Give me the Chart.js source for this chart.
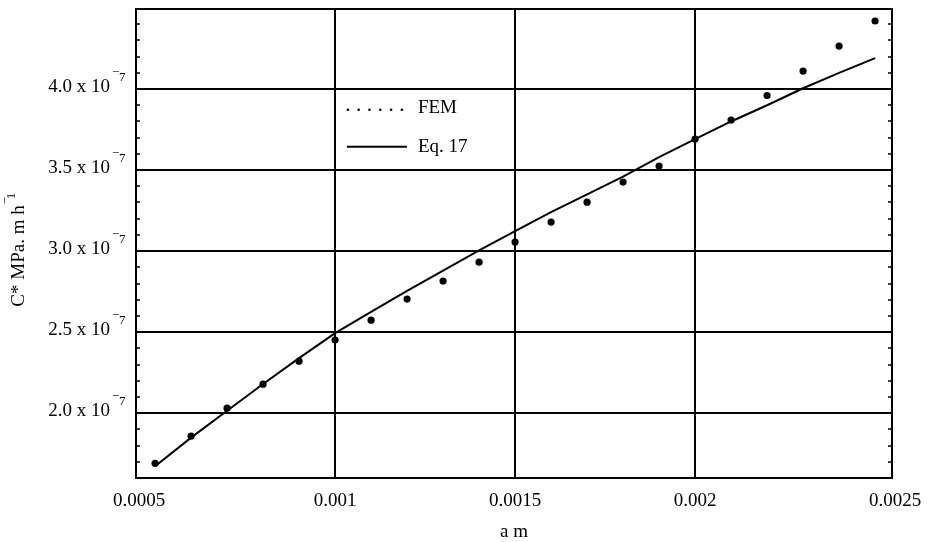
<!DOCTYPE html>
<html>
<head>
<meta charset="utf-8">
<title>C* versus crack length</title>
<script src="https://cdn.jsdelivr.net/npm/chart.js@4/dist/chart.umd.min.js"></script>
<style>
  html, body { margin: 0; padding: 0; background: #fff; }
  #wrap { width: 929px; height: 542px; position: relative; }
</style>
</head>
<body>
<div id="wrap"><canvas id="chart"></canvas></div>
<script>
// Crack length a (m)
const crackLength = [0.0005, 0.0006, 0.0007, 0.0008, 0.0009, 0.0010, 0.0011, 0.0012, 0.0013, 0.0014,
                     0.0015, 0.0016, 0.0017, 0.0018, 0.0019, 0.0020, 0.0021, 0.0022, 0.0023, 0.0024, 0.0025];
// C* from finite element runs (x 10^-7 MPa.m/h)
const femRate = [1.691, 1.858, 2.031, 2.179, 2.321, 2.451, 2.574, 2.704, 2.815, 2.932,
                 3.056, 3.179, 3.302, 3.426, 3.525, 3.691, 3.809, 3.960, 4.111, 4.265, 4.420];
// C* from Eq. 17 (x 10^-7 MPa.m/h)
const eq17Rate = [1.673, 1.849, 2.015, 2.180, 2.340, 2.494, 2.625, 2.755, 2.880, 3.005,
                  3.123, 3.240, 3.350, 3.460, 3.580, 3.691, 3.800, 3.900, 4.005, 4.100, 4.191];

const xTickValues = [0.0005, 0.001, 0.0015, 0.002, 0.0025];
const xTickLabels = ['0.0005', '0.001', '0.0015', '0.002', '0.0025'];
const yTickValues = [2.0, 2.5, 3.0, 3.5, 4.0];
const yTickLabels = ['2.0 x 10', '2.5 x 10', '3.0 x 10', '3.5 x 10', '4.0 x 10'];
const yTickExponent = '7';
const xTitle = 'a m';
const yTitle = 'C* MPa. m h';
const yTitleExponent = '1';
const seriesNames = ['FEM', 'Eq. 17'];

const FONT = '"Liberation Serif", "Times New Roman", serif';

function onStep(v, step) {
  const r = v / step;
  return Math.abs(r - Math.round(r)) < 1e-6;
}

// Frame, grid and inward tick marks, drawn beneath the data
const framePlugin = {
  id: 'frame',
  beforeDatasetsDraw(chart) {
    const { ctx, chartArea: a, scales: { x, y } } = chart;
    ctx.save();
    ctx.strokeStyle = '#000';
    ctx.lineWidth = 2;
    ctx.beginPath();
    xTickValues.slice(1, -1).forEach(v => {
      const px = Math.round(x.getPixelForValue(v));
      ctx.moveTo(px, a.top); ctx.lineTo(px, a.bottom);
    });
    yTickValues.forEach(v => {
      const py = Math.round(y.getPixelForValue(v));
      ctx.moveTo(a.left, py); ctx.lineTo(a.right, py);
    });
    ctx.stroke();

    ctx.lineWidth = 1.5;
    ctx.beginPath();
    x.ticks.forEach(t => {
      if (!onStep(t.value, 0.0001)) return;
      const px = Math.round(x.getPixelForValue(t.value));
      if (px < a.left + 2 || px > a.right - 2) return;
      ctx.moveTo(px, a.bottom); ctx.lineTo(px, a.bottom - 4);
      ctx.moveTo(px, a.top); ctx.lineTo(px, a.top + 4);
    });
    y.ticks.forEach(t => {
      if (!onStep(t.value, 0.1)) return;
      const py = Math.round(y.getPixelForValue(t.value));
      if (py < a.top + 2 || py > a.bottom - 2) return;
      ctx.moveTo(a.left, py); ctx.lineTo(a.left + 4, py);
      ctx.moveTo(a.right, py); ctx.lineTo(a.right - 4, py);
    });
    ctx.stroke();

    ctx.lineWidth = 2;
    ctx.strokeRect(a.left, a.top, a.right - a.left, a.bottom - a.top);
    ctx.restore();
  },
  afterDatasetsDraw(chart) {
    const { ctx, chartArea: a, scales: { x, y } } = chart;
    ctx.save();
    ctx.fillStyle = '#000';
    ctx.font = '19px ' + FONT;

    // x tick labels; the end labels sit at the frame edges
    ctx.textAlign = 'center';
    ctx.textBaseline = 'alphabetic';
    const last = xTickValues.length - 1;
    xTickValues.forEach((v, i) => {
      let px = x.getPixelForValue(v);
      if (i === 0) px = a.left + 3;
      if (i === last) px = a.right + 3;
      ctx.fillText(xTickLabels[i], px, a.bottom + 28);
    });

    // y tick labels with a raised exponent
    yTickValues.forEach((v, i) => {
      const py = y.getPixelForValue(v);
      ctx.font = '19px ' + FONT;
      ctx.textAlign = 'right';
      ctx.fillText(yTickLabels[i], a.left - 26, py + 2.5);
      ctx.font = '13px ' + FONT;
      ctx.textAlign = 'left';
      ctx.fillText('\u2212', a.left - 24, py - 13);
      ctx.fillText(yTickExponent, a.left - 17, py - 8);
    });

    // axis titles
    ctx.font = '19px ' + FONT;
    ctx.textAlign = 'center';
    ctx.fillText(xTitle, (a.left + a.right) / 2, a.bottom + 59);

    ctx.save();
    ctx.translate(24, 250);
    ctx.rotate(-Math.PI / 2);
    ctx.textAlign = 'left';
    const w = ctx.measureText(yTitle).width;
    const x0 = -w / 2 - 6;
    ctx.fillText(yTitle, x0, 0);
    ctx.font = '13px ' + FONT;
    ctx.fillText('\u2212', x0 + w + 1, -15);
    ctx.fillText(yTitleExponent, x0 + w + 6, -9);
    ctx.restore();

    // legend
    ctx.font = '19px ' + FONT;
    ctx.textAlign = 'left';
    const lx = x.getPixelForValue(0.00103);
    const ly1 = y.getPixelForValue(3.86);
    const ly2 = y.getPixelForValue(3.62);
    for (let i = 0; i < 6; i++) {
      ctx.beginPath();
      ctx.arc(lx + 2 + i * 10.8, ly1 - 2, 1.3, 0, Math.PI * 2);
      ctx.fill();
    }
    ctx.fillText(seriesNames[0], lx + 72, ly1 + 1);
    ctx.lineWidth = 2;
    ctx.strokeStyle = '#000';
    ctx.beginPath();
    ctx.moveTo(lx + 1, ly2 - 4);
    ctx.lineTo(lx + 61, ly2 - 4);
    ctx.stroke();
    ctx.fillText(seriesNames[1], lx + 72, ly2 + 1);
    ctx.restore();
  }
};

const hiddenAxis = {
  type: 'linear',
  ticks: { display: false },
  grid: { display: false, drawTicks: false },
  border: { display: false },
  title: { display: false }
};

new Chart(document.getElementById('chart'), {
  type: 'scatter',
  data: {
    datasets: [
      {
        label: seriesNames[0],
        data: crackLength.map((a, i) => ({ x: a, y: femRate[i] })),
        showLine: false,
        pointRadius: 3.6,
        pointBackgroundColor: '#000',
        pointBorderWidth: 0,
        order: 1
      },
      {
        label: seriesNames[1],
        data: crackLength.map((a, i) => ({ x: a, y: eq17Rate[i] })),
        showLine: true,
        borderColor: '#000',
        borderWidth: 2,
        pointRadius: 0,
        tension: 0,
        order: 2
      }
    ]
  },
  options: {
    responsive: true,
    maintainAspectRatio: false,
    animation: false,
    events: [],
    layout: { padding: { left: 136, top: 9, right: 37, bottom: 64 } },
    plugins: { legend: { display: false }, tooltip: { enabled: false } },
    scales: {
      x: Object.assign({}, hiddenAxis, { min: 0.000447, max: 0.002547, ticks: { display: false, stepSize: 0.0001 } }),
      y: Object.assign({}, hiddenAxis, { min: 1.6, max: 4.494, ticks: { display: false, stepSize: 0.1 } })
    }
  },
  plugins: [framePlugin]
});
</script>
</body>
</html>
